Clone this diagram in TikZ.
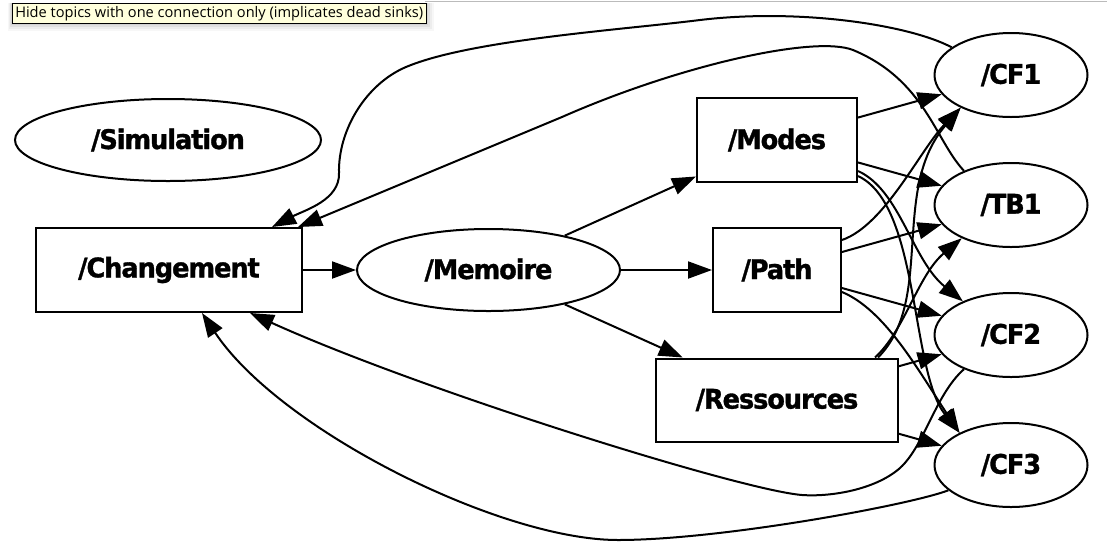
\documentclass[tikz,border=0pt]{standalone}
\usepackage{fontspec}
\setmainfont{DejaVu Sans}
\newfontfamily\nodefont{DejaVu Sans}[FakeStretch=0.95, LetterSpace=-4, FakeBold=1.2]
\newfontfamily\tipfont{Open Sans}
\usetikzlibrary{arrows.meta,shapes.geometric}
\definecolor{tipyellow}{HTML}{FFFFDC}
\definecolor{topline}{HTML}{BBBBBB}
\begin{document}
\begin{tikzpicture}[x=1pt,y=-1pt,
  lbl/.style={font=\nodefont\bfseries\fontsize{27}{30}\selectfont},
  boxnode/.style={lbl, draw, line width=2pt, rectangle, minimum width=#1, minimum height=84pt, inner sep=0pt},
  ovalnode/.style={lbl, draw, line width=2pt, ellipse, minimum width=#1, minimum height=82pt, inner sep=0pt},
  edge/.style={line width=2pt, -{Triangle[length=24pt,width=17pt]}}
]
\useasboundingbox (0,0) rectangle (1107,547);
\fill[white] (0,0) rectangle (1107,547);

% nodes
\node[ovalnode=306pt] (sim) at (168,140) {/Simulation};
\node[boxnode=266pt] (chg) at (169,270) {/Changement};
\node[ovalnode=263pt] (mem) at (488.5,270) {/Memoire};
\node[boxnode=160pt] (modes) at (777,140) {/Modes};
\node[boxnode=128pt] (path) at (777,270) {/Path};
\node[boxnode=242pt, minimum height=83pt] (res) at (777,400) {/Ressources};
\node[ovalnode=153pt, minimum height=84pt] (cf1) at (1011,75) {/CF1};
\node[ovalnode=153pt, minimum height=84pt] (tb1) at (1011,205) {/TB1};
\node[ovalnode=153pt, minimum height=84pt] (cf2) at (1011,335) {/CF2};
\node[ovalnode=153pt, minimum height=84pt] (cf3) at (1011,465) {/CF3};

% straight edges
\draw[edge] (chg) -- (mem);
\draw[edge] (mem) -- (modes);
\draw[edge] (mem) -- (path);
\draw[edge] (mem) -- (res);
\draw[edge] (modes) -- (cf1);
\draw[edge] (modes) -- (tb1);
\draw[edge] (path) -- (tb1);
\draw[edge] (path) -- (cf2);
\draw[edge] (res) -- (cf2);
\draw[edge] (res) -- (cf3);

% curved edges to the right column
\draw[edge] ([yshift=12pt]modes.south east) .. controls (900,190) and (912,260) .. (cf2.145);
\draw[edge] ([yshift=7pt]modes.south east) .. controls (920,205) and (910,370) .. (cf3.148);
\draw[edge] ([yshift=-22pt]path.east) .. controls (885,310) and (918,370) .. (cf3.148);
\draw[edge] ([yshift=30pt]path.east) .. controls (885,225) and (920,150) .. (cf1.213);
\draw[edge] ([xshift=-21pt]res.north east) .. controls (935,300) and (890,190) .. (cf1.213);
\draw[edge] ([xshift=-24pt]res.north east) .. controls (905,330) and (918,275) .. (tb1.214);

% feedback edges back to /Changement
\draw[edge] (cf1.155) .. controls (910,25) and (800,8) .. (700,20)
  .. controls (620,30) and (470,40) .. (406,67)
  .. controls (366,84) and (338,130) .. (339,173)
  .. controls (340,200) and (305,210) .. ([xshift=103pt]chg.north);
\draw[edge] (tb1.144) .. controls (935,140) and (925,80) .. (853,50)
  .. controls (815,35) and (680,65) .. (562,117) -- ([xshift=129pt]chg.north);
\draw[edge] (cf2.216) .. controls (935,395) and (925,445) .. (900,468)
  .. controls (875,490) and (830,497) .. (802,495)
  .. controls (740,490) and (420,390) .. ([xshift=81pt]chg.south);
\draw[edge] (cf3.202) .. controls (910,505) and (720,540) .. (618,540)
  .. controls (500,540) and (280,430) .. ([xshift=33pt]chg.south);

% window edge and tooltip
\draw[topline, line width=1.2pt] (425,1.5) -- (1107,1.5);
\foreach \d/\o in {8/0.03,6/0.04,4/0.05,2/0.06}{
  \fill[black, opacity=\o] (11.5-\d/2,2.5) rectangle (426+\d,23+\d);
}
\node[draw=black, line width=1pt, fill=tipyellow, anchor=north west,
      minimum width=414.5pt, minimum height=20.5pt, inner sep=0pt,
      font=\tipfont\fontsize{14.6}{16}\selectfont] (tip) at (11.5,2.5)
      {Hide topics with one connection only (implicates dead sinks)};
\end{tikzpicture}
\end{document}
